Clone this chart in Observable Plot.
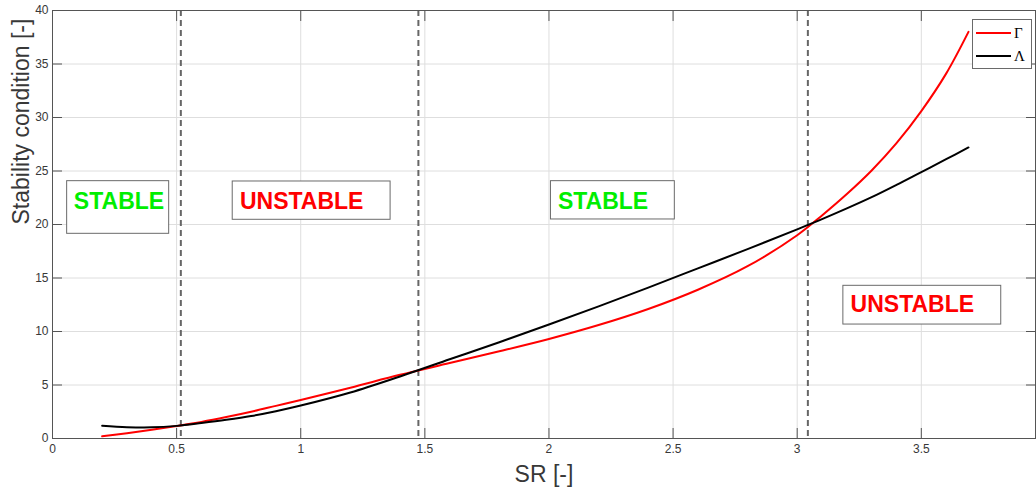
<!DOCTYPE html>
<html>
<head>
<meta charset="utf-8">
<script src="https://cdn.jsdelivr.net/npm/d3@7"></script>
<script src="https://cdn.jsdelivr.net/npm/@observablehq/plot@0.6"></script>
<style>
  html, body { margin: 0; padding: 0; background: #fff; }
  #wrap { position: relative; width: 1036px; height: 490px; }
  #legend { position: absolute; left: 972px; top: 19px; width: 60px; height: 50px; box-sizing: border-box;
            border: 1px solid #6a6a6a; background: #fff; }
</style>
</head>
<body>
<div id="wrap"></div>
<script>
// ---- data ----
const SR = [0.2, 0.3, 0.4, 0.5, 0.6, 0.7, 0.8, 0.9, 1.0, 1.2, 1.4, 1.6, 1.8, 2.0, 2.2, 2.4, 2.6, 2.8, 3.0, 3.1, 3.2, 3.3, 3.4, 3.5, 3.6, 3.69];
const gamma = [0.2, 0.5, 0.82, 1.17, 1.55, 2.0, 2.5, 3.05, 3.6, 4.75, 5.95, 7.05, 8.15, 9.3, 10.6, 12.1, 13.9, 16.1, 19.0, 20.85, 22.85, 25.05, 27.6, 30.6, 34.1, 38.0];
const lambda = [1.19, 1.06, 1.04, 1.18, 1.45, 1.75, 2.1, 2.55, 3.08, 4.3, 5.8, 7.4, 9.0, 10.65, 12.35, 14.1, 15.9, 17.7, 19.55, 20.5, 21.5, 22.55, 23.7, 24.9, 26.1, 27.2];
const seriesNames = ["\u0393", "\u039B"];
const seriesColors = ["#ff0000", "#000000"];

const boundaries = [0.517, 1.474, 3.043];

const regionLabels = ["STABLE", "UNSTABLE", "STABLE", "UNSTABLE"];
const regionColors = ["#00ee00", "#ff0000", "#00ee00", "#ff0000"];
const regionX = [0.086, 0.755, 2.036, 3.215];
const regionY = [22.15, 22.18, 22.15, 12.5];
const boxX1 = [0.059, 0.726, 2.008, 3.186];
const boxX2 = [0.470, 1.362, 2.507, 3.822];
const boxY1 = [19.13, 20.44, 20.47, 10.65];
const boxY2 = [24.05, 24.02, 24.05, 14.27];

const xTicks = [0, 0.5, 1, 1.5, 2, 2.5, 3, 3.5];
const yTicks = [0, 5, 10, 15, 20, 25, 30, 35, 40];
const xLabel = "SR [-]";
const yLabel = "Stability condition [-]";

// ---- tables ----
const rows = SR.map((x, i) => ({SR: x, gamma: gamma[i], lambda: lambda[i]}));
const regions = regionLabels.map((t, i) => ({t, c: regionColors[i], x: regionX[i], y: regionY[i],
  x1: boxX1[i], x2: boxX2[i], y1: boxY1[i], y2: boxY2[i]}));

const axisColor = "#555";
const textColor = "#383838";
const noText = () => "";
const plain = d => String(d);

const chart = Plot.plot({
  width: 1036,
  height: 490,
  marginLeft: 52,
  marginRight: 1,
  marginTop: 10,
  marginBottom: 52,
  x: {domain: [0, 3.96], label: null},
  y: {domain: [0, 40], label: null},
  style: {fontFamily: "'Liberation Sans', Arial, sans-serif", background: "#fff", color: textColor},
  marks: [
    Plot.gridX(xTicks, {stroke: "#dedede", strokeOpacity: 1}),
    Plot.gridY(yTicks, {stroke: "#dedede", strokeOpacity: 1}),
    Plot.ruleX(boundaries, {stroke: "#666", strokeWidth: 2, strokeDasharray: "6,4"}),
    Plot.rect(regions, {x1: "x1", x2: "x2", y1: "y1", y2: "y2", fill: "#fff", stroke: "#6a6a6a", strokeWidth: 1}),
    Plot.text(regions, {x: "x", y: "y", text: "t", fill: "c", textAnchor: "start", fontWeight: "bold", fontSize: 23}),
    Plot.line(rows, {x: "SR", y: "gamma", stroke: seriesColors[0], strokeWidth: 2, curve: "catmull-rom"}),
    Plot.line(rows, {x: "SR", y: "lambda", stroke: seriesColors[1], strokeWidth: 2, curve: "catmull-rom"}),
    Plot.frame({stroke: axisColor}),
    Plot.axisX({ticks: xTicks, anchor: "bottom", tickSize: -10, tickFormat: noText, stroke: axisColor, label: null}),
    Plot.axisX({ticks: xTicks, anchor: "top", tickSize: -10, tickFormat: noText, stroke: axisColor, label: null}),
    Plot.axisY({ticks: yTicks, anchor: "left", tickSize: -10, tickFormat: noText, stroke: axisColor, label: null}),
    Plot.axisY({ticks: yTicks, anchor: "right", tickSize: -10, tickFormat: noText, stroke: axisColor, label: null}),
    Plot.axisX({ticks: xTicks, anchor: "bottom", tickSize: 0, tickPadding: 6, tickFormat: plain, fontSize: 12, fill: textColor, label: null}),
    Plot.axisY({ticks: yTicks, anchor: "left", tickSize: 0, tickPadding: 4, tickFormat: plain, fontSize: 12, fill: textColor, label: null}),
    Plot.text([xLabel], {frameAnchor: "bottom", dy: 36, lineAnchor: "middle", fontSize: 23, fill: textColor}),
    Plot.text([yLabel], {frameAnchor: "left", dx: -31, rotate: -90, lineAnchor: "middle", fontSize: 23, fill: textColor})
  ]
});

const wrap = document.getElementById("wrap");
wrap.appendChild(chart);

// legend (upper-right, inside the axes box)
const legend = document.createElement("div");
legend.id = "legend";
const ns = "http://www.w3.org/2000/svg";
const lsvg = document.createElementNS(ns, "svg");
lsvg.setAttribute("width", 58);
lsvg.setAttribute("height", 48);
seriesNames.forEach((name, i) => {
  const cy = 13 + i * 23;
  const ln = document.createElementNS(ns, "line");
  ln.setAttribute("x1", 3); ln.setAttribute("x2", 38);
  ln.setAttribute("y1", cy); ln.setAttribute("y2", cy);
  ln.setAttribute("stroke", seriesColors[i]); ln.setAttribute("stroke-width", 2);
  lsvg.appendChild(ln);
  const tx = document.createElementNS(ns, "text");
  tx.setAttribute("x", 41); tx.setAttribute("y", cy + 5);
  tx.setAttribute("font-family", "'Liberation Serif', 'DejaVu Serif', serif");
  tx.setAttribute("font-size", 15);
  tx.setAttribute("fill", "#000");
  tx.textContent = name;
  lsvg.appendChild(tx);
});
legend.appendChild(lsvg);
wrap.appendChild(legend);
</script>
</body>
</html>
